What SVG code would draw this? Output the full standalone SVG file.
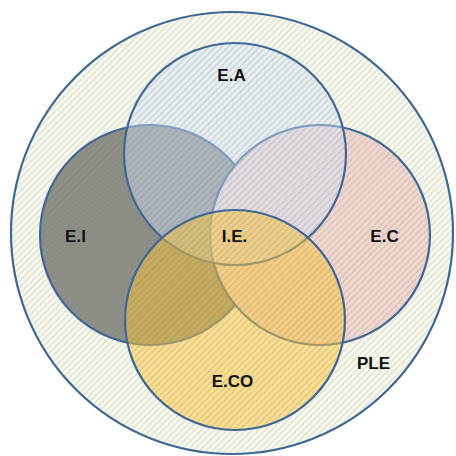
<svg xmlns="http://www.w3.org/2000/svg" width="456" height="456" viewBox="0 0 456 456">
  <defs>
    <pattern id="hatch" patternUnits="userSpaceOnUse" width="4.5" height="4.5" patternTransform="rotate(45)">
      <line x1="1" y1="0" x2="1" y2="4.5" stroke="#6f7458" stroke-opacity="0.22" stroke-width="1.2"/>
    </pattern>
    <style>
      .ring { stroke: #3d6896; stroke-width: 2.2; }
      .hatch { fill: url(#hatch); stroke: none; }
      .lbl { font-family: "Liberation Sans", Arial, sans-serif; font-weight: bold; font-size: 17px; fill: #111; text-anchor: middle; }
    </style>
  </defs>
  <rect width="456" height="456" fill="#ffffff"/>

  <g id="PLE">
    <circle cx="232" cy="233" r="221" fill="#f8f9ee" stroke="none"/>
    <circle class="hatch" cx="232" cy="233" r="221"/>
    <circle cx="232" cy="233" r="221" fill="none" class="ring"/>
    <text class="lbl" x="373.5" y="369">PLE</text>
  </g>

  <g id="E.I">
    <circle cx="150" cy="235" r="110" fill="#8f8f89" stroke="none"/>
    <circle class="hatch" cx="150" cy="235" r="110"/>
    <circle cx="150" cy="235" r="110" fill="none" class="ring"/>
    <text class="lbl" x="75.5" y="242">E.I</text>
  </g>

  <g id="E.C">
    <circle cx="320" cy="235" r="110" fill="#f0d6cf" stroke="none"/>
    <circle class="hatch" cx="320" cy="235" r="110"/>
    <circle cx="320" cy="235" r="110" fill="none" class="ring"/>
    <text class="lbl" x="384.5" y="242">E.C</text>
  </g>

  <g id="E.A">
    <circle cx="235" cy="154" r="111" fill="rgb(209,226,250)" fill-opacity="0.44" stroke="none"/>
    <circle class="hatch" cx="235" cy="154" r="111" opacity="0.6"/>
    <circle cx="235" cy="154" r="111" fill="none" class="ring"/>
    <text class="lbl" x="231.5" y="81">E.A</text>
  </g>

  <g id="E.CO">
    <circle cx="235" cy="320" r="110" fill="rgb(251,197,61)" fill-opacity="0.51" stroke="none"/>
    <circle class="hatch" cx="235" cy="320" r="110" opacity="0.6"/>
    <circle cx="235" cy="320" r="110" fill="none" class="ring"/>
    <text class="lbl" x="232.5" y="387">E.CO</text>
  </g>

  <g id="I.E">
    <text class="lbl" x="234.5" y="242">I.E.</text>
  </g>

  <g id="connectors"/>
</svg>
